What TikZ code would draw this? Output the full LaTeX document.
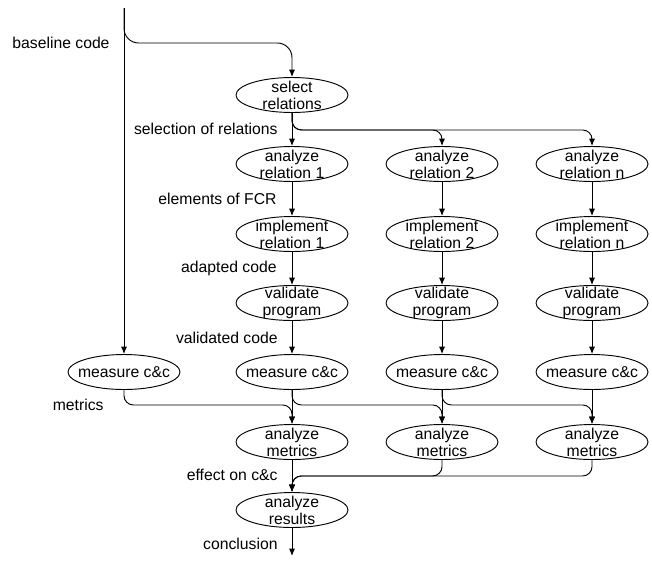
\documentclass[tikz,border=0pt]{standalone}
\usepackage{fontspec}
\setmainfont{Liberation Sans}
\usetikzlibrary{shapes.geometric,arrows.meta}
\begin{document}
\begin{tikzpicture}[x=0.75pt,y=-0.75pt,
  font=\fontsize{11.8pt}{12.8pt}\selectfont,
  line width=0.7pt,
  proc/.style={ellipse, draw, minimum width=84pt, minimum height=26.25pt, inner sep=0pt,
    label={[align=center,inner sep=0pt]center:#1}},
  flow/.style={-{Latex[length=5.5pt,width=4.5pt]}},
  roundflow/.style={flow, rounded corners=7pt},
  note/.style={anchor=east, inner sep=0pt}]
\useasboundingbox (0,0) rectangle (652,561);

% process steps
\node[proc={select\\relations}] (sel) at (292,95) {};
\node[proc={analyze\\relation 1}] (ar1) at (292,164) {};
\node[proc={analyze\\relation 2}] (ar2) at (442,164) {};
\node[proc={analyze\\relation n}] (ar3) at (592,164) {};
\node[proc={implement\\relation 1}] (im1) at (292,234) {};
\node[proc={implement\\relation 2}] (im2) at (442,234) {};
\node[proc={implement\\relation n}] (im3) at (592,234) {};
\node[proc={validate\\program}] (va1) at (292,303) {};
\node[proc={validate\\program}] (va2) at (442,303) {};
\node[proc={validate\\program}] (va3) at (592,303) {};
\node[proc={measure c\&c}] (mb) at (124,372) {};
\node[proc={measure c\&c}] (m1) at (292,372) {};
\node[proc={measure c\&c}] (m2) at (442,372) {};
\node[proc={measure c\&c}] (m3) at (592,372) {};
\node[proc={analyze\\metrics}] (am1) at (292,442) {};
\node[proc={analyze\\metrics}] (am2) at (442,442) {};
\node[proc={analyze\\metrics}] (am3) at (592,442) {};
\node[proc={analyze\\results}] (res) at (292,510) {};

\coordinate (top) at (124,8);
\coordinate (split) at (124,43);
\coordinate (out) at (292,556);

% data labels
\node[note] (lbase) at (110,43) {baseline code};
\node[note] (lsel) at (278,129) {selection of relations};
\node[note] (lfcr) at (277,199) {elements of FCR};
\node[note] (ladapt) at (277,268) {adapted code};
\node[note] (lvalid) at (278,338) {validated code};
\node[note] (lmet) at (104,405) {metrics};
\node[note] (leff) at (278,475) {effect on c\&c};
\node[note] (lconc) at (278,544) {conclusion};

% baseline code
\draw[flow] (top) -- (mb.north);
\draw[flow, rounded corners=11pt] (top) -- (split) -| (sel.north);

% relation selection
\draw[flow] (sel) -- (ar1);
\draw[roundflow] (sel.south) -- ++(0,17) -| (ar2.north);
\draw[roundflow] (sel.south) -- ++(0,17) -| (ar3.north);

% per-relation chains
\foreach \c in {1,2,3} {
  \draw[flow] (ar\c) -- (im\c);
  \draw[flow] (im\c) -- (va\c);
  \draw[flow] (va\c) -- (m\c);
  \draw[flow] (m\c) -- (am\c);
}

% metrics bus
\draw[roundflow] (mb.south) -- ++(0,15) -| (am1.north);
\draw[roundflow] (m1.south) -- ++(0,15) -| (am2.north);
\draw[roundflow] (m2.south) -- ++(0,15) -| (am3.north);

% effects to results
\draw[flow] (am1) -- (res);
\draw[roundflow] (am2.south) -- ++(0,16) -| (res.north);
\draw[roundflow] (am3.south) -- ++(0,16) -| (res.north);
\draw[flow] (res) -- (out);
\end{tikzpicture}
\end{document}
